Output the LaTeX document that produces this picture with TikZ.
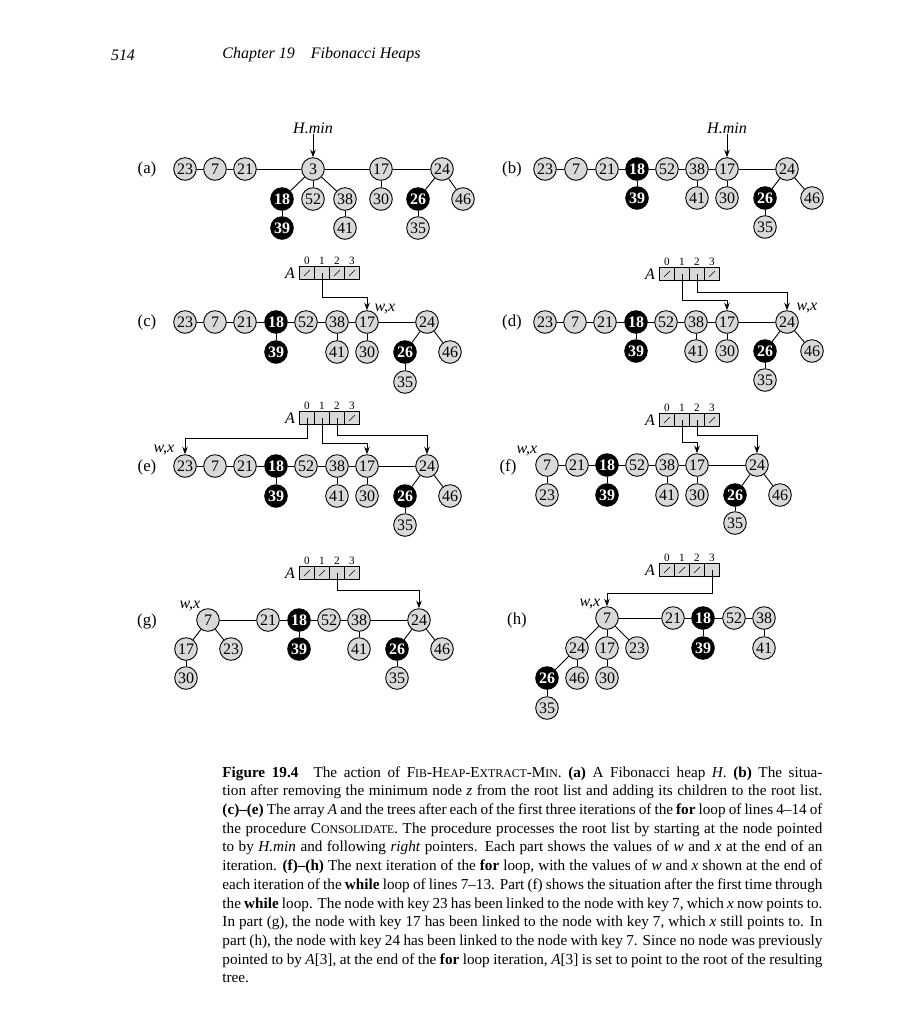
\documentclass[tikz,border=0pt]{standalone}
\usepackage{fontspec}
\setmainfont{Liberation Serif}
\usetikzlibrary{arrows.meta}
\tikzset{
 wnode/.style={circle,draw,fill=gray!30,minimum size=11.3pt,inner sep=0pt,font=\fontsize{8}{8}\selectfont},
 bnode/.style={wnode,fill=black,text=white,font=\fontsize{8}{8}\selectfont\bfseries},
 cell/.style={draw,fill=gray!30,minimum width=7.6pt,minimum height=6.5pt,inner sep=0pt},
 idx/.style={font=\fontsize{5.6}{6}\selectfont,inner sep=0pt},
 lbl/.style={font=\fontsize{8}{9}\selectfont\itshape,inner sep=0pt},
 tag/.style={font=\fontsize{8.4}{9}\selectfont,inner sep=0pt},
 ptr/.style={-{Stealth[length=3.8pt,width=2.8pt]}},
}
\newcommand\smc[1]{{\fontsize{5.9}{6}\selectfont #1}}
% array A: name, x of cell 0, y, nil cells
\newcommand\arr[4]{%
 \node[lbl] (#1A) at (#2-17,#3) {A};
 \foreach \i in {0,...,3}{\node[cell] (#1\i) at (#2+15*\i,#3) {};
  \node[idx] (#1n\i) at (#2+15*\i,#3-12) {\i};}
 \foreach \i in {#4}\draw[line width=0.3pt] ([shift={(-3,3)}]#1\i.center) -- ([shift={(3,-3)}]#1\i.center);}
\begin{document}
\begin{tikzpicture}[x=0.5pt,y=-0.5pt,line width=0.45pt]
\useasboundingbox[fill=white] (0,0) rectangle (900,1024);
\node[tag,font=\fontsize{8}{9}\selectfont\itshape] (pg) at (123,55) {514};
\node[tag,anchor=west,font=\fontsize{8}{9}\selectfont\itshape] (chap) at (222,55) {Chapter 19\quad Fibonacci Heaps};
% (a)
\node[tag] (la) at (147,169) {(a)};
\foreach \n/\x/\y in {23/185/169,7/215/169,21/245/169,3/313/169,17/381/169,24/442/169,52/313/199,38/345/199,30/381/199,46/463/199,41/345/228,35/418/228}
 \node[wnode] (a\n) at (\x,\y) {\n};
\foreach \n/\x/\y in {18/282/199,39/282/228,26/418/199}\node[bnode] (a\n) at (\x,\y) {\n};
\foreach \u/\v in {23/7,7/21,21/3,3/17,17/24,3/18,3/52,3/38,18/39,38/41,17/30,24/26,24/46,26/35}\draw (a\u)--(a\v);
\node[lbl] (ha) at (313,128) {H.min};
\draw[ptr] (ha)--(a3);
% (b)
\node[tag] (lb) at (512,169) {(b)};
\foreach \n/\x/\y in {23/545/169,7/576/169,21/607/169,52/667/169,38/697/169,17/727/169,24/787/169,41/697/198,30/727/198,46/812/198,35/765/227}
 \node[wnode] (b\n) at (\x,\y) {\n};
\foreach \n/\x/\y in {18/637/169,39/637/198,26/765/198}\node[bnode] (b\n) at (\x,\y) {\n};
\foreach \u/\v in {23/7,7/21,21/18,18/52,52/38,38/17,17/24,18/39,38/41,17/30,24/26,24/46,26/35}\draw (b\u)--(b\v);
\node[lbl] (hb) at (727,128) {H.min};
\draw[ptr] (hb)--(b17);
% (c)
\node[tag] (lc) at (147,322) {(c)};
\foreach \n/\x/\y in {23/185/322,7/215/322,21/245/322,52/306/322,38/337/322,17/367/322,24/427/322,41/337/352,30/367/352,46/450/352,35/405/382}
 \node[wnode] (c\n) at (\x,\y) {\n};
\foreach \n/\x/\y in {18/276/322,39/276/352,26/405/352}\node[bnode] (c\n) at (\x,\y) {\n};
\foreach \u/\v in {23/7,7/21,21/18,18/52,52/38,38/17,17/24,18/39,38/41,17/30,24/26,24/46,26/35}\draw (c\u)--(c\v);
\arr{c}{307}{273}{0,2,3}
\draw[ptr] (c1.center)--++(0,24)-|(c17);
\node[lbl] (wc) at (385,309) {w,x};
% (d)
\node[tag] (ld) at (512,322) {(d)};
\foreach \n/\x/\y in {23/545/322,7/575/322,21/605/322,52/666/322,38/696/322,17/727/322,24/787/322,41/696/351,30/727/351,46/812/351,35/765/380}
 \node[wnode] (d\n) at (\x,\y) {\n};
\foreach \n/\x/\y in {18/636/322,39/636/351,26/765/351}\node[bnode] (d\n) at (\x,\y) {\n};
\foreach \u/\v in {23/7,7/21,21/18,18/52,52/38,38/17,17/24,18/39,38/41,17/30,24/26,24/46,26/35}\draw (d\u)--(d\v);
\arr{d}{667}{274}{0,3}
\draw[ptr] (d1.center)--++(0,26)-|(d17);
\draw[ptr] (d2.center)--++(0,18)-|(d24);
\node[lbl] (wd) at (807,308) {w,x};
% (e)
\node[tag] (le) at (147,467) {(e)};
\foreach \n/\x/\y in {23/185/466,7/215/466,21/245/466,52/306/466,38/337/466,17/367/466,24/427/466,41/337/496,30/367/496,46/450/496,35/405/525}
 \node[wnode] (e\n) at (\x,\y) {\n};
\foreach \n/\x/\y in {18/276/466,39/276/496,26/405/496}\node[bnode] (e\n) at (\x,\y) {\n};
\foreach \u/\v in {23/7,7/21,21/18,18/52,52/38,38/17,17/24,18/39,38/41,17/30,24/26,24/46,26/35}\draw (e\u)--(e\v);
\arr{e}{307}{418}{3}
\draw[ptr] (e0.center)--++(0,20)-|(e23);
\draw[ptr] (e1.center)--++(0,25)-|(e17);
\draw[ptr] (e2.center)--++(0,17)-|(e24);
\node[lbl] (we) at (164,450) {w,x};
% (f)
\node[tag] (lf) at (508,467) {(f)};
\foreach \n/\x/\y in {7/547/465,21/577/465,52/637/465,38/667/465,17/697/465,24/757/465,23/547/495,41/667/495,30/697/495,46/780/495,35/735/523}
 \node[wnode] (f\n) at (\x,\y) {\n};
\foreach \n/\x/\y in {18/607/465,39/607/495,26/735/495}\node[bnode] (f\n) at (\x,\y) {\n};
\foreach \u/\v in {7/21,21/18,18/52,52/38,38/17,17/24,7/23,18/39,38/41,17/30,24/26,24/46,26/35}\draw (f\u)--(f\v);
\arr{f}{667}{420}{0,3}
\draw[ptr] (f1.center)--++(0,22)-|(f17);
\draw[ptr] (f2.center)--++(0,15)-|(f24);
\node[lbl] (wf) at (527,451) {w,x};
% (g)
\node[tag] (lg) at (147,621) {(g)};
\foreach \n/\x/\y in {7/208/620,21/268/620,52/329/620,38/359/620,24/419/620,17/186/649,23/231/649,41/359/649,46/442/649,30/186/678,35/397/678}
 \node[wnode] (g\n) at (\x,\y) {\n};
\foreach \n/\x/\y in {18/299/620,39/299/649,26/397/649}\node[bnode] (g\n) at (\x,\y) {\n};
\foreach \u/\v in {7/21,21/18,18/52,52/38,38/24,7/17,7/23,17/30,18/39,38/41,24/26,24/46,26/35}\draw (g\u)--(g\v);
\arr{g}{307}{573}{0,1,3}
\draw[ptr] (g2.center)--++(0,17)-|(g24);
\node[lbl] (wg) at (190,606) {w,x};
% (h)
\node[tag] (lh) at (517,620) {(h)};
\foreach \n/\x/\y in {7/607/618,21/673/618,52/734/618,38/764/618,24/577/648,17/607/648,23/637/648,41/764/648,46/577/678,30/607/678,35/547/708}
 \node[wnode] (h\n) at (\x,\y) {\n};
\foreach \n/\x/\y in {18/703/618,39/703/648,26/547/678}\node[bnode] (h\n) at (\x,\y) {\n};
\foreach \u/\v in {7/21,21/18,18/52,52/38,7/24,7/17,7/23,24/26,24/46,17/30,26/35,18/39,38/41}\draw (h\u)--(h\v);
\arr{h}{667}{570}{0,1,2}
\draw[ptr] (h3.center)--++(0,23)-|(h7);
\node[lbl] (wh) at (590,604) {w,x};
% caption
\node[anchor=north west,inner sep=0pt,text width=300pt,align=justify,font=\fontsize{7.6}{9.35}\selectfont] (cap) at (222,766) {%
\textbf{Figure 19.4}\quad The action of F\smc{IB}-H\smc{EAP}-E\smc{XTRACT}-M\smc{IN}. \textbf{(a)} A Fibonacci heap \textit{H}. \textbf{(b)} The situa-\linebreak
tion after removing the minimum node \textit{z} from the root list and adding its children to the root list.\linebreak
\textbf{(c)--(e)} The array \textit{A} and the trees after each of the first three iterations of the \textbf{for} loop of lines 4--14 of\linebreak
the procedure C\smc{ONSOLIDATE}. The procedure processes the root list by starting at the node pointed\linebreak
to by \textit{H.min} and following \textit{right} pointers. Each part shows the values of \textit{w} and \textit{x} at the end of an\linebreak
iteration. \textbf{(f)--(h)} The next iteration of the \textbf{for} loop, with the values of \textit{w} and \textit{x} shown at the end of\linebreak
each iteration of the \textbf{while} loop of lines 7--13. Part (f) shows the situation after the first time through\linebreak
the \textbf{while} loop. The node with key 23 has been linked to the node with key 7, which \textit{x} now points to.\linebreak
In part (g), the node with key 17 has been linked to the node with key 7, which \textit{x} still points to. In\linebreak
part (h), the node with key 24 has been linked to the node with key 7. Since no node was previously\linebreak
pointed to by \textit{A}[3], at the end of the \textbf{for} loop iteration, \textit{A}[3] is set to point to the root of the resulting\linebreak
tree.};
\end{tikzpicture}
\end{document}
